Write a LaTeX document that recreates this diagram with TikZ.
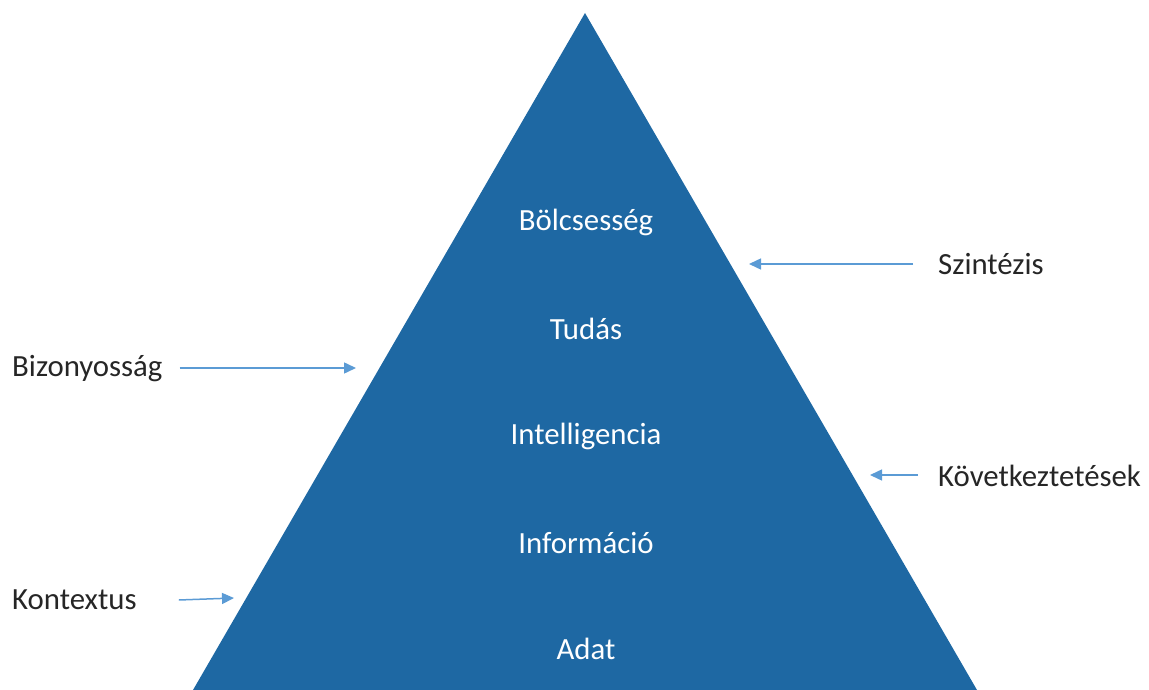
\documentclass[tikz,border=0pt]{standalone}
\usepackage{fontspec}
\setmainfont{Carlito}
\usetikzlibrary{arrows.meta}
\definecolor{pyrblue}{RGB}{30,104,163}
\definecolor{arrblue}{RGB}{91,155,213}
\tikzset{
  level/.style={text=white, inner sep=0pt},
  side/.style={text=black!85, anchor=west, inner sep=0pt},
  hint/.style={->, arrblue, line width=1.5pt}
}
\begin{document}
\begin{tikzpicture}[x=1pt,y=-1pt,>={Triangle[length=12pt,width=11pt]},font=\fontsize{30.8}{36}\selectfont,line join=round]
\useasboundingbox (0,0) rectangle (1149,690);
\fill[pyrblue] (585,13)--(977,690)--(193,690)--cycle;
% levels of the pyramid
\node[level] (wisdom) at (586,222) {Bölcsesség};
\node[level] (knowledge) at (586,329) {Tudás};
\node[level] (intel) at (586,436) {Intelligencia};
\node[level] (info) at (586,543) {Információ};
\node[level] (data) at (586,649) {Adat};
% side labels
\node[side] (certainty) at (12,369) {Bizonyosság};
\node[side] (context) at (12,600) {Kontextus};
\node[side] (synth) at (938,264) {Szintézis};
\node[side] (infer) at (938,476) {Következtetések};
\coordinate (certaintyE) at (356,368);
\coordinate (contextE) at (234,598);
\coordinate (synthE) at (749,264);
\coordinate (inferE) at (870,475);
\draw[hint] ([xshift=17pt]certainty.east |- certaintyE) -- (certaintyE);
\draw[hint] ([xshift=42pt]context.east) -- (contextE);
\draw[hint] ([xshift=-25pt]synth.west) -- (synthE);
\draw[hint] ([xshift=-20pt]infer.west |- inferE) -- (inferE);
\end{tikzpicture}
\end{document}
